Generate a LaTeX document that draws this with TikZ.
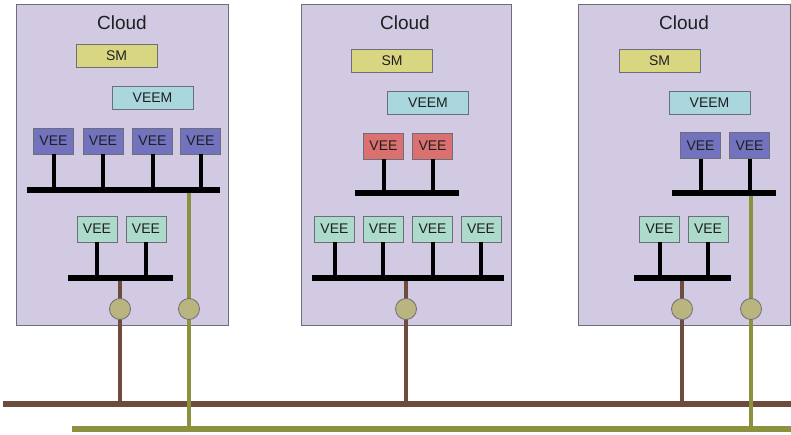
\documentclass[tikz,border=0pt]{standalone}
\usepackage{fontspec}
\setmainfont{Liberation Sans}
\definecolor{cloudFill}{HTML}{D2CAE2}
\definecolor{boxEdge}{HTML}{6E6E78}
\definecolor{smFill}{HTML}{D9D682}
\definecolor{veemFill}{HTML}{A9D7DD}
\definecolor{veeBlue}{HTML}{7272BE}
\definecolor{veeRed}{HTML}{DB7070}
\definecolor{veeTeal}{HTML}{ACDACB}
\definecolor{netBrown}{HTML}{6E4C3D}
\definecolor{netOlive}{HTML}{8C9140}
\definecolor{portFill}{HTML}{BAB47E}

\begin{document}
\begin{tikzpicture}[
  x=1pt,y=-1pt,
  cloud/.style={draw=boxEdge,line width=.8pt,fill=cloudFill,inner sep=0pt,minimum height=321pt},
  title/.style={font=\fontsize{19}{20}\selectfont,text=black!88},
  mgr/.style={draw=boxEdge,line width=.8pt,inner sep=0pt,minimum width=81pt,minimum height=23pt,font=\fontsize{14}{15}\selectfont,text=black!88},
  sm/.style={mgr,fill=smFill},
  veem/.style={mgr,fill=veemFill},
  vee/.style={draw=boxEdge,line width=.8pt,inner sep=0pt,minimum width=40pt,minimum height=26pt,font=\fontsize{14}{15}\selectfont,text=black!88},
  bus/.style={line width=6pt,draw=black},
  stem/.style={line width=4pt,draw=black},
  brownlink/.style={line width=4pt,draw=netBrown},
  olivelink/.style={line width=4.5pt,draw=netOlive},
  port/.style={circle,draw=boxEdge,line width=.8pt,fill=portFill,minimum size=21pt,inner sep=0pt}
]
\useasboundingbox (0,0) rectangle (791,435);

% three clouds
\node[cloud,minimum width=212pt] (cloudA) at (122,164.5) {};
\node[cloud,minimum width=210pt] (cloudB) at (406,164.5) {};
\node[cloud,minimum width=212pt] (cloudC) at (684,164.5) {};
\node[title] (titleA) at (122,23) {Cloud};
\node[title] (titleB) at (405,23) {Cloud};
\node[title] (titleC) at (684,23) {Cloud};

\node[sm] (smA) at (116.5,55.5) {SM};
\node[sm] (smB) at (392,60.5) {SM};
\node[sm] (smC) at (659.5,60.5) {SM};
\node[veem] (veemA) at (152.5,97.5) {VEEM};
\node[veem] (veemB) at (428,102.5) {VEEM};
\node[veem] (veemC) at (709.5,102.5) {VEEM};

% VEE groups
\node[vee,fill=veeBlue] (veeA1) at (53.5,141) {VEE};
\node[vee,fill=veeBlue] (veeA2) at (103,141) {VEE};
\node[vee,fill=veeBlue] (veeA3) at (152.5,141) {VEE};
\node[vee,fill=veeBlue] (veeA4) at (200.5,141) {VEE};
\node[vee,fill=veeTeal] (veeA5) at (97,229) {VEE};
\node[vee,fill=veeTeal] (veeA6) at (146,229) {VEE};

\node[vee,fill=veeRed] (veeB1) at (383.5,146) {VEE};
\node[vee,fill=veeRed] (veeB2) at (432.5,146) {VEE};
\node[vee,fill=veeTeal] (veeB3) at (334.5,229) {VEE};
\node[vee,fill=veeTeal] (veeB4) at (383,229) {VEE};
\node[vee,fill=veeTeal] (veeB5) at (432.5,229) {VEE};
\node[vee,fill=veeTeal] (veeB6) at (481,229) {VEE};

\node[vee,fill=veeBlue] (veeC1) at (700.5,145.5) {VEE};
\node[vee,fill=veeBlue] (veeC2) at (749.5,145.5) {VEE};
\node[vee,fill=veeTeal] (veeC3) at (659.5,229) {VEE};
\node[vee,fill=veeTeal] (veeC4) at (708,229) {VEE};

% bus ends
\coordinate (busAw) at (27,190);   \coordinate (busAe) at (220,190);
\coordinate (busA2w) at (68,278);  \coordinate (busA2e) at (173,278);
\coordinate (busBw) at (355,193);  \coordinate (busBe) at (459,193);
\coordinate (busB2w) at (312,278); \coordinate (busB2e) at (504,278);
\coordinate (busCw) at (672,193);  \coordinate (busCe) at (776,193);
\coordinate (busC2w) at (634,278); \coordinate (busC2e) at (731,278);

% network lines at the bottom
\coordinate (brownW) at (3,404);  \coordinate (brownE) at (791,404);
\coordinate (oliveW) at (72,429); \coordinate (oliveE) at (791,429);
\coordinate (tapA1) at (120,309);
\coordinate (tapA2) at (189,309);
\coordinate (tapB1) at (406,309);
\coordinate (tapC1) at (682,309);
\coordinate (tapC2) at (751,309);

\draw[brownlink] (busA2w -| tapA1) -- (tapA1 |- brownW);
\draw[brownlink] (busB2w -| tapB1) -- (tapB1 |- brownW);
\draw[brownlink] (busC2w -| tapC1) -- (tapC1 |- brownW);
\draw[netBrown,line width=6pt] (brownW) -- (brownE);
\draw[netOlive,line width=5.5pt] (oliveW) -- (oliveE);
\draw[olivelink] (busAw -| tapA2) -- (tapA2 |- oliveW);
\draw[olivelink] (busCw -| tapC2) -- (tapC2 |- oliveW);

\foreach \t in {A1,A2,B1,C1,C2}
  \node[port] (port\t) at (tap\t) {};

\foreach \v in {veeA1,veeA2,veeA3,veeA4}
  \draw[stem] (\v.south) -- (\v.south |- busAw);
\foreach \v in {veeA5,veeA6}
  \draw[stem] (\v.south) -- (\v.south |- busA2w);
\foreach \v in {veeB1,veeB2}
  \draw[stem] (\v.south) -- (\v.south |- busBw);
\foreach \v in {veeB3,veeB4,veeB5,veeB6}
  \draw[stem] (\v.south) -- (\v.south |- busB2w);
\foreach \v in {veeC1,veeC2}
  \draw[stem] (\v.south) -- (\v.south |- busCw);
\foreach \v in {veeC3,veeC4}
  \draw[stem] (\v.south) -- (\v.south |- busC2w);

\draw[bus] (busAw) -- (busAe);
\draw[bus] (busA2w) -- (busA2e);
\draw[bus] (busBw) -- (busBe);
\draw[bus] (busB2w) -- (busB2e);
\draw[bus] (busCw) -- (busCe);
\draw[bus] (busC2w) -- (busC2e);
\end{tikzpicture}
\end{document}
